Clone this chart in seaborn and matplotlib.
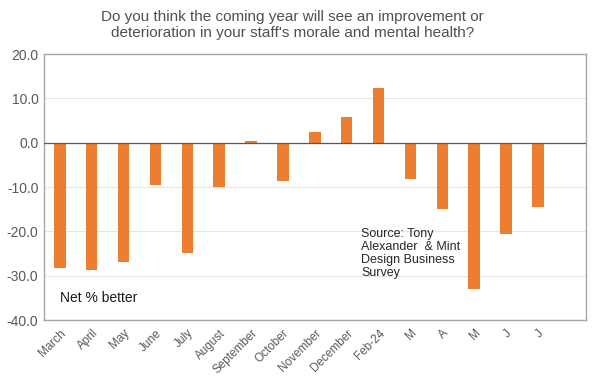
import numpy as np
import pandas as pd
import seaborn as sns
import matplotlib.pyplot as plt

# Chart data
months = ["March", "April", "May", "June", "July", "August", "September",
          "October", "November", "December", "Feb-24", "M", "A", "M", "J", "J"]
net_better = [-28.2, -28.7, -26.8, -9.6, -24.8, -10.0, 0.5, -8.7, 2.5, 5.7,
              12.3, -8.2, -15.0, -33.0, -20.6, -14.4]

df = pd.DataFrame({"pos": range(len(months)), "value": net_better})

sns.set_theme(style="white")
plt.rcParams['font.family'] = ['Liberation Sans', 'DejaVu Sans']

fig = plt.figure(figsize=(5.94, 3.89), dpi=100)
ax = fig.add_axes([0.074, 0.177, 0.912, 0.684])

sns.barplot(data=df, x="pos", y="value", color="#ED7D31", saturation=1,
            width=0.36, linewidth=0, ax=ax, zorder=3)

ax.set_xlim(-0.5, len(months) + 0.5)
ax.set_ylim(-40, 20)
ax.set_yticks(np.arange(-40, 21, 10))
ax.set_yticklabels([f"{v:.1f}" for v in np.arange(-40, 21, 10)],
                   fontsize=10, color="#595959")
ax.tick_params(axis="y", length=0, pad=4)
ax.set_xticks(range(len(months)))
ax.set_xticklabels(months, rotation=45, ha="right", rotation_mode="anchor",
                   fontsize=8.5, color="#595959")
ax.tick_params(axis="x", length=0, pad=5)
ax.set_xlabel("")
ax.set_ylabel("")

ax.grid(axis="y", color="#E6E6E6", linewidth=0.8, zorder=0)
ax.axhline(0, color="#595959", linewidth=0.9, zorder=4)
for s in ax.spines.values():
    s.set_color("#A6A6A6")
    s.set_linewidth(1.0)

ax.text(0.0, -35.8, "Net % better", fontsize=10, color="#1a1a1a")
ax.text(9.45, -19.3, "Source: Tony\nAlexander  & Mint\nDesign Business\nSurvey",
        fontsize=9, color="#262626", va="top", linespacing=1.1)

fig.text(0.492, 0.975, "Do you think the coming year will see an improvement or\n"
         "deterioration in your staff's morale and mental health?",
         ha="center", va="top", fontsize=11, color="#505050", linespacing=1.25)

fig.savefig("out.png", dpi=100)
